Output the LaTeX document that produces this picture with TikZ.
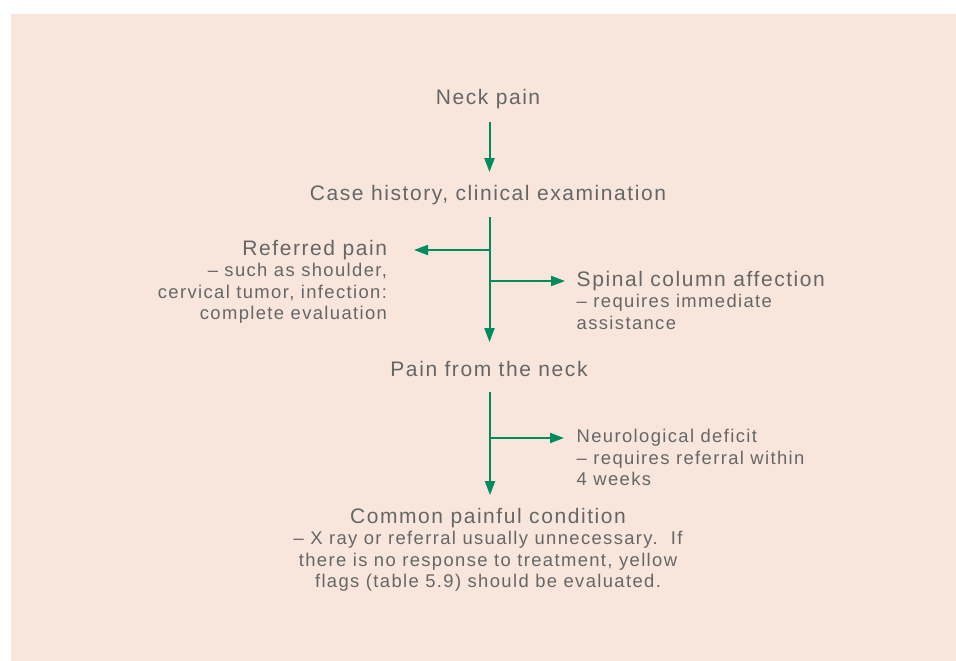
\documentclass[tikz,border=0pt]{standalone}
\usepackage{fontspec}
\setmainfont{Liberation Sans}[LetterSpace=7.5]
\usetikzlibrary{arrows.meta}
\definecolor{bg}{HTML}{F8E6DC}
\definecolor{txt}{HTML}{666666}
\definecolor{grn}{HTML}{008C5E}
\newcommand\mainsz{\fontsize{21}{24}\selectfont}
\newcommand\subsz{\fontsize{18.4}{21.5}\selectfont}
\newcommand\blockR[1]{\vtop{\baselineskip=21.5pt\lineskiplimit=-50pt\lineskip=0pt\halign{\hfil##\cr#1\crcr}}}
\newcommand\blockL[1]{\vtop{\baselineskip=21.5pt\lineskiplimit=-50pt\lineskip=0pt\halign{##\hfil\cr#1\crcr}}}
\newcommand\blockC[1]{\vtop{\baselineskip=21.5pt\lineskiplimit=-50pt\lineskip=0pt\halign{\hfil##\hfil\cr#1\crcr}}}
\begin{document}
\begin{tikzpicture}[x=1pt,y=-1pt,
  every node/.style={inner sep=0pt,outer sep=0pt,text=txt,font=\subsz},
  arr/.style={draw=grn,line width=2pt,-{Triangle[length=14pt,width=10pt]}}]
\useasboundingbox (0,0) rectangle (956,661);
\fill[bg] (11,14) rectangle (956,661);

\node[anchor=base,font=\mainsz] (neck) at (488,104) {Neck pain};
\node[anchor=base,font=\mainsz] (case) at (488,200) {Case history, clinical examination};
\node[anchor=base east] (referred) at (387,255) {\blockR{\mainsz Referred pain\cr
  \subsz -- such as shoulder,\cr
  \subsz cervical tumor, infection:\cr
  \subsz complete evaluation}};
\node[anchor=base west] (spinal) at (576.7,286) {\blockL{\mainsz Spinal column affection\cr
  \subsz -- requires immediate\cr
  \subsz assistance}};
\node[anchor=base,font=\mainsz] (pfn) at (489,376.7) {Pain from the neck};
\node[anchor=base west] (neuro) at (576.7,442.7) {\blockL{\subsz Neurological deficit\cr
  \subsz -- requires referral within\cr
  \subsz 4 weeks}};
\node[anchor=base] (common) at (488,523.3) {\blockC{\mainsz Common painful condition\cr
  \subsz -- X ray or referral usually unnecessary.\ \ If\cr
  \subsz there is no response to treatment, yellow\cr
  \subsz flags (table 5.9) should be evaluated.}};

\coordinate (sp) at (489.5,0);
\coordinate (sq) at (490,0);
\draw[arr,shorten <=13.5pt,shorten >=12.7pt] (neck.south -| sp) -- (case.north -| sp);
\draw[arr,shorten <=12.5pt,shorten >=19.4pt] (case.south -| sp) -- (pfn.north -| sp);
\coordinate (b1) at (489.5,250);
\coordinate (b2) at (489.5,281);
\draw[arr] (b1) -- ([xshift=27pt,yshift=5pt]referred.base east);
\draw[arr] (b2) -- ([xshift=-11.7pt,yshift=5pt]spinal.base west);
\draw[arr,shorten <=15.3pt,shorten >=13pt] (pfn.south -| sq) -- (common.north -| sq);
\coordinate (b3) at (490,438);
\draw[arr] (b3) -- ([xshift=-12.7pt,yshift=4.7pt]neuro.base west);
\end{tikzpicture}
\end{document}
